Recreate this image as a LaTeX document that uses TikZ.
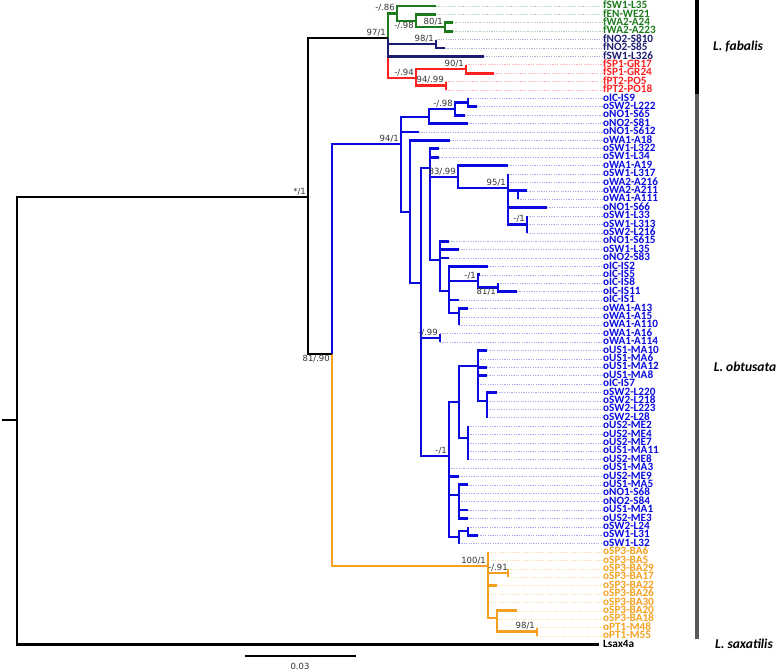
\documentclass[tikz,border=0pt]{standalone}
\usepackage{fontspec}
\setmainfont{Carlito}
\newfontfamily\supfont{DejaVu Sans}
\definecolor{cg}{HTML}{1B7A1B}
\definecolor{cn}{HTML}{1C1C72}
\definecolor{cr}{HTML}{FF2020}
\definecolor{cb}{HTML}{0A0AE0}
\definecolor{co}{HTML}{F5A020}

\begin{document}
\begin{tikzpicture}[x=1pt,y=-1pt,
  br/.style={line width=2.7pt},
  guide/.style={line width=0.6pt,dash pattern=on 1.2pt off 1.2pt},
  tiplab/.style={anchor=west,inner sep=0pt,text height=6.3pt,text depth=1pt,
    font=\fontsize{11.2}{11.2}\selectfont\bfseries},
  bsup/.style={anchor=south east,inner sep=0pt,xshift=-2pt,yshift=2pt,text=black!80,
    font=\supfont\fontsize{8.5}{8.5}\selectfont},
  bsupb/.style={bsup,anchor=north east,yshift=-3pt},
  spec/.style={inner sep=0pt,font=\fontsize{13.5}{13.5}\selectfont\bfseries\itshape}]
  \useasboundingbox (0,0) rectangle (778,671);

  % tips: label / index / branch end / colour
  \foreach \n/\i/\x/\col in {fSW1-L35/1/436/cg, fEN-WE21/2/436/cg, fWA2-A24/3/453/cg, fWA2-A223/4/453/cg,
    fNO2-S810/5/436/cn, fNO2-S85/6/445/cn, fSW1-L326/7/484/cn,
    fSP1-GR17/8/466/cr, fSP1-GR24/9/494/cr, fPT2-PO5/10/446/cr, fPT2-PO18/11/446/cr,
    oIC-IS9/12/468/cb, oSW2-L222/13/477/cb, oNO1-S65/14/465/cb, oNO2-S81/15/468/cb,
    oNO1-S612/16/419/cb, oWA1-A18/17/450/cb, oSW1-L322/18/439/cb, oSW1-L34/19/439/cb,
    oWA1-A19/20/508/cb, oSW1-L317/21/508/cb, oWA2-A216/22/508/cb, oWA2-A211/23/527/cb,
    oWA1-A111/24/518/cb, oNO1-S66/25/547/cb, oSW1-L33/26/527/cb, oSW1-L313/27/527/cb,
    oSW2-L216/28/527/cb, oNO1-S615/29/449/cb, oSW1-L35/30/459/cb, oNO2-S83/31/449/cb,
    oIC-IS2/32/488/cb, oIC-IS5/33/480/cb, oIC-IS8/34/498/cb, oIC-IS11/35/517/cb,
    oIC-IS1/36/459/cb, oWA1-A13/37/468/cb, oWA1-A15/38/459/cb, oWA1-A110/39/459/cb,
    oWA1-A16/40/440/cb, oWA1-A114/41/440/cb, oUS1-MA10/42/487/cb, oUS1-MA6/43/478/cb,
    oUS1-MA12/44/487/cb, oUS1-MA8/45/487/cb, oIC-IS7/46/478/cb, oSW2-L220/47/497/cb,
    oSW2-L218/48/487/cb, oSW2-L223/49/487/cb, oSW2-L28/50/487/cb, oUS2-ME2/51/468/cb,
    oUS2-ME4/52/468/cb, oUS2-ME7/53/468/cb, oUS1-MA11/54/468/cb, oUS2-ME8/55/468/cb,
    oUS1-MA3/56/449/cb, oUS2-ME9/57/459/cb, oUS1-MA5/58/468/cb, oNO1-S68/59/459/cb,
    oNO2-S84/60/459/cb, oUS1-MA1/61/468/cb, oUS2-ME3/62/468/cb, oSW2-L24/63/468/cb,
    oSW1-L31/64/478/cb, oSW1-L32/65/459/cb,
    oSP3-BA6/66/488/co, oSP3-BA5/67/488/co, oSP3-BA29/68/508/co, oSP3-BA17/69/508/co,
    oSP3-BA22/70/497/co, oSP3-BA26/71/488/co, oSP3-BA30/72/488/co, oSP3-BA20/73/517/co,
    oSP3-BA18/74/497/co, oPT1-M48/75/537/co, oPT1-M55/76/537/co}{
    \coordinate (t\i) at (\x,{6+8.4*(\i-1)});
    \node[tiplab,text=\col] (l\i) at (603,{6+8.4*(\i-1)}) {\n};
    \draw[guide,\col!35] (t\i) -- (l\i.west);
  }
  \coordinate (t77) at (599,644.4);
  \node[tiplab] (l77) at (603,644.4) {Lsax4a};

  % internal nodes
  \coordinate (base) at (2,420);
  \coordinate (root) at (17,420);
  \coordinate (n1) at (308,197);
  \coordinate (fab) at (388,38);
  \coordinate (g1) at (397,13.5);
  \coordinate (g2) at (416,21);
  \coordinate (g3) at (445,27);
  \coordinate (nv1) at (436,44);
  \coordinate (r1) at (416,78);
  \coordinate (r2) at (466,69);
  \coordinate (r3) at (446,85.8);
  \coordinate (obt) at (332,354);
  \coordinate (b1) at (401,144);
  \coordinate (b2) at (429,117);
  \coordinate (b3) at (455,109);
  \coordinate (b3a) at (468,102.6);
  \coordinate (b4) at (410,212);
  \coordinate (b5) at (421,283);
  \coordinate (b6) at (430,168);
  \coordinate (s1) at (458,177);
  \coordinate (tn1) at (508,188);
  \coordinate (u1) at (518,190.8);
  \coordinate (v1) at (527,224.4);
  \coordinate (w1) at (440,260);
  \coordinate (y1) at (449,291);
  \coordinate (z1) at (478,281);
  \coordinate (z2) at (498,287.4);
  \coordinate (aa1) at (459,313);
  \coordinate (q1) at (440,338);
  \coordinate (b20) at (449,456);
  \coordinate (c1) at (459,402);
  \coordinate (c2) at (478,366);
  \coordinate (c3) at (468,438);
  \coordinate (c4) at (487,401);
  \coordinate (d1) at (459,495);
  \coordinate (d2) at (459,537);
  \coordinate (d3) at (468,531);
  \coordinate (o1) at (488,566);
  \coordinate (o2) at (508,573);
  \coordinate (o3) at (497,618);
  \coordinate (o4) at (537,631.8);

  % branches
  \foreach \a/\b in {fab/r1, r1/r2, r1/r3, r2/t8, r2/t9, r3/t10, r3/t11}
    \draw[br,cr] (\a) |- (\b);
  \foreach \a/\b in {fab/t7, fab/nv1, nv1/t5, nv1/t6}
    \draw[br,cn] (\a) |- (\b);
  \foreach \a/\b in {fab/g1, g1/t1, g1/g2, g2/t2, g2/g3, g3/t3, g3/t4}
    \draw[br,cg] (\a) |- (\b);
  \foreach \a/\b in {obt/b1, b1/b2, b1/t16, b1/b4, b2/b3, b2/t15, b3/b3a, b3/t14, b3a/t12, b3a/t13,
    b4/t17, b4/b5, b5/b6, b5/q1, b5/b20, b6/t18, b6/t19, b6/s1, b6/w1,
    s1/t20, s1/tn1, tn1/t21, tn1/t22, tn1/u1, u1/t23, u1/t24, tn1/t25, tn1/v1, v1/t26, v1/t27, v1/t28,
    w1/t29, w1/t30, w1/t31, w1/y1, y1/t32, y1/z1, y1/t36, y1/aa1, z1/t33, z1/z2, z2/t34, z2/t35,
    aa1/t37, aa1/t38, aa1/t39, q1/t40, q1/t41,
    b20/c1, b20/t56, b20/t57, b20/d1, b20/d2, c1/c2, c1/c3,
    c2/t42, c2/t43, c2/t44, c2/t45, c2/t46, c2/c4, c4/t47, c4/t48, c4/t49, c4/t50,
    c3/t51, c3/t52, c3/t53, c3/t54, c3/t55,
    d1/t58, d1/t59, d1/t60, d1/t61, d1/t62, d2/d3, d2/t65, d3/t63, d3/t64}
    \draw[br,cb] (\a) |- (\b);
  \foreach \a/\b in {obt/o1, o1/t66, o1/t67, o1/o2, o1/t70, o1/t71, o1/t72, o1/o3,
    o2/t68, o2/t69, o3/t73, o3/t74, o3/o4, o4/t75, o4/t76}
    \draw[br,co] (\a) |- (\b);
  \foreach \a/\b in {root/n1, root/t77, n1/fab, n1/obt}
    \draw[br] (\a) |- (\b);
  \draw[br] (base) -- (root);

  % support values
  \node[bsup] (sfab) at (fab) {97/1};
  \node[bsup] (sg1) at (g1) {-/.86};
  \node[bsupb] (sg2) at (g2) {-/.98};
  \node[bsup] (sg3) at (g3) {80/1};
  \node[bsup] (snv1) at (nv1) {98/1};
  \node[bsup] (sr1) at (r1) {-/.94};
  \node[bsup] (sr2) at (r2) {90/1};
  \node[bsup] (sr3) at (r3) {94/.99};
  \node[bsup] (sn1) at (n1) {*/1};
  \node[bsupb] (sobt) at (obt) {81/.90};
  \node[bsup] (sb1) at (b1) {94/1};
  \node[bsup] (sb3) at (b3) {-/.98};
  \node[bsup] (ss1) at (s1) {83/.99};
  \node[bsup] (stn1) at (tn1) {95/1};
  \node[bsup] (sv1) at (v1) {-/1};
  \node[bsup] (sz1) at (z1) {-/1};
  \node[bsupb] (sz2) at (z2) {81/1};
  \node[bsup] (sq1) at (q1) {-/.99};
  \node[bsup] (sb20) at (b20) {-/1};
  \node[bsup] (so1) at (o1) {100/1};
  \node[bsup,anchor=south,xshift=-8pt] (so2) at (o2) {-/.91};
  \node[bsup] (so4) at (o4) {98/1};

  % species bars and names
  \coordinate (barA) at (697,0);
  \coordinate (barB) at (697,94);
  \coordinate (barC) at (697,639);
  \draw[line width=3.5pt] (barA) -- (barB);
  \draw[line width=3.5pt,black!65] (barB) -- (barC);
  \node[spec] (fabn) at (738,47) {L. fabalis};
  \node[spec] (obtn) at (745,367) {L. obtusata};
  \node[spec] (saxn) at (744,644) {L. saxatilis};

  % scale bar
  \coordinate (sca) at (245,656);
  \coordinate (scb) at (356,656);
  \draw[line width=2.8pt] (sca) -- (scb);
  \node[inner sep=0pt,text=black!80,font=\supfont\fontsize{8.5}{8.5}\selectfont] (scl) at (300,666) {0.03};
\end{tikzpicture}
\end{document}
